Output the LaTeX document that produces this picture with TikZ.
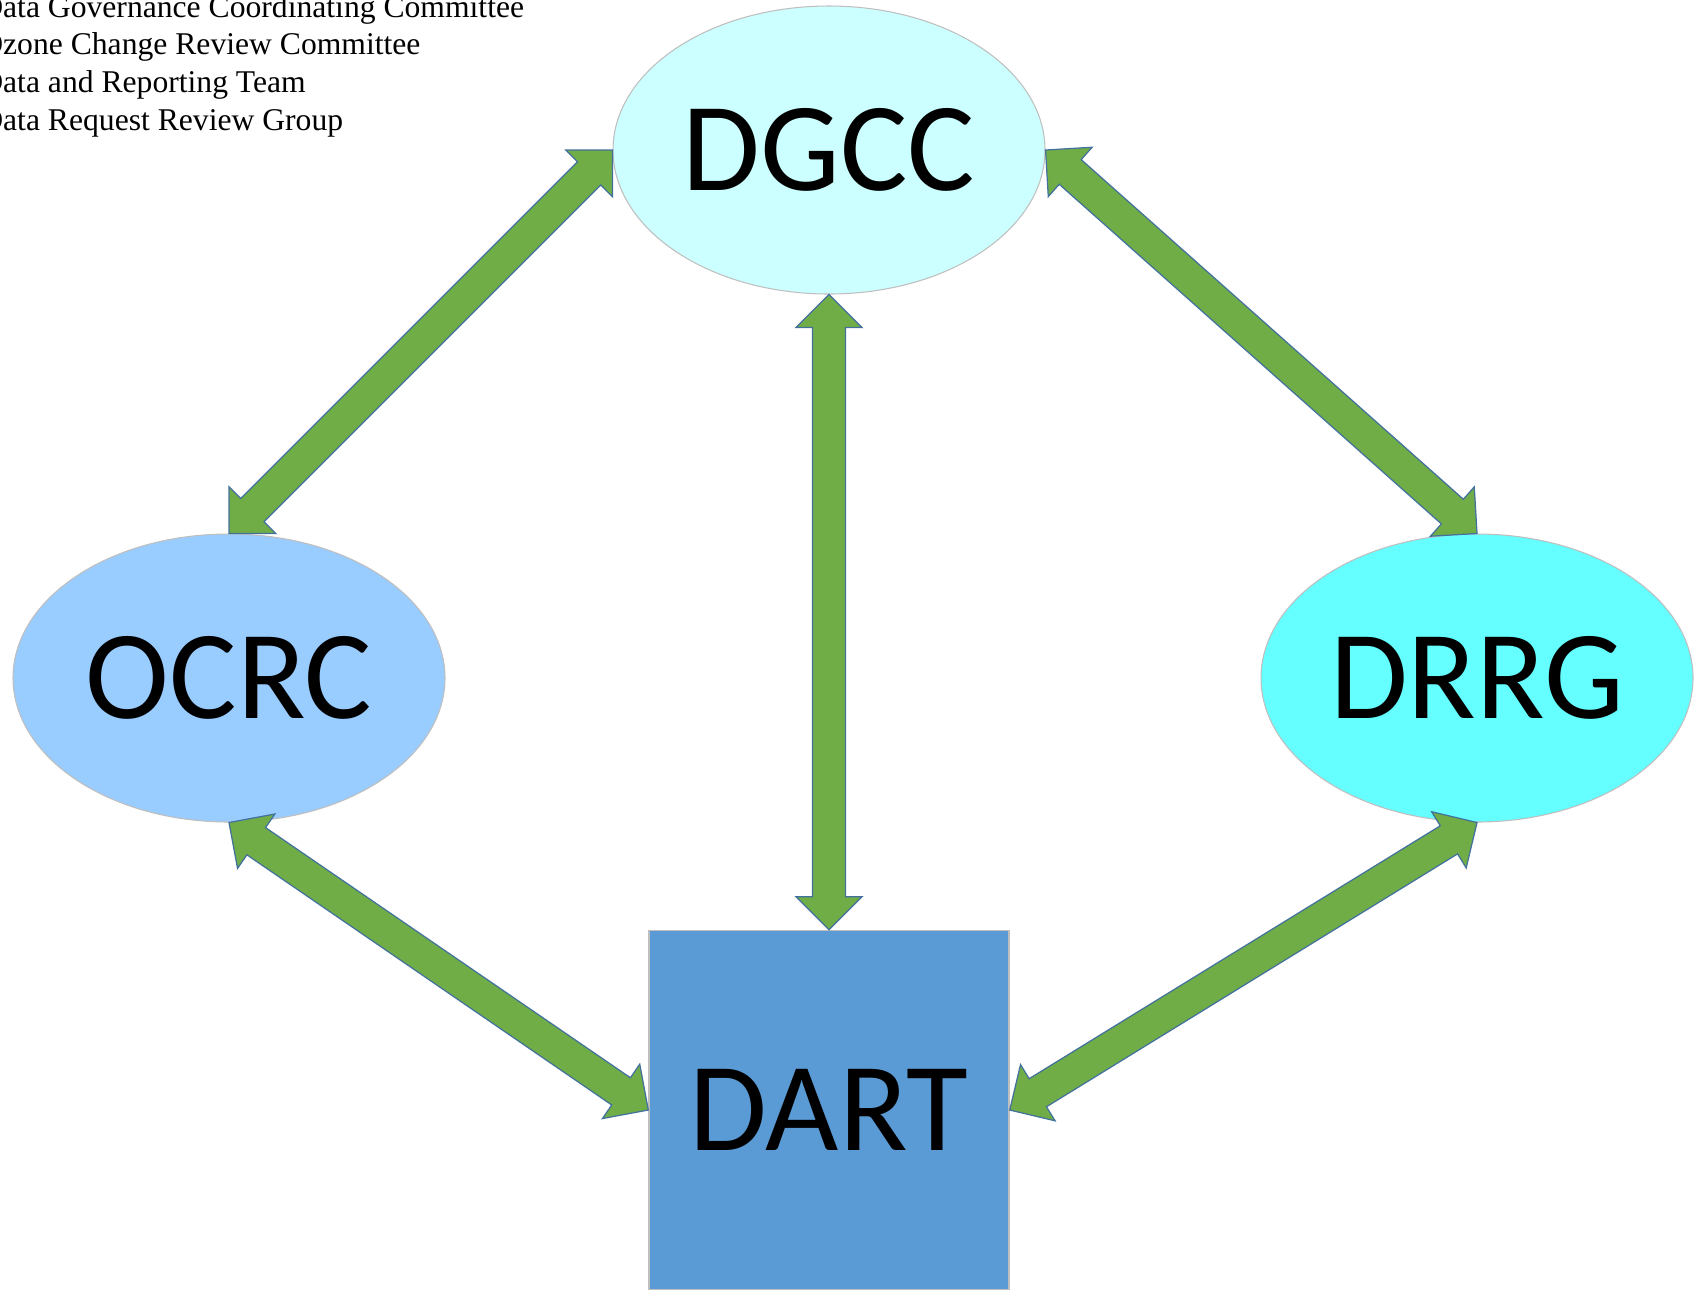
\documentclass[tikz,border=0pt]{standalone}
\usepackage{fontspec}
\setmainfont{Liberation Serif}
\newfontfamily\calibri{Carlito}
\usetikzlibrary{shapes.geometric,calc}

\definecolor{dgccfill}{HTML}{CCFFFF}
\definecolor{ocrcfill}{HTML}{99CCFF}
\definecolor{drrgfill}{HTML}{66FFFF}
\definecolor{dartfill}{HTML}{5B9BD5}
\definecolor{arrowgreen}{HTML}{70AD47}
\definecolor{arrowedge}{HTML}{41719C}
\definecolor{shapeedge}{HTML}{BFBFBF}

\tikzset{
  committee/.style={ellipse, draw=shapeedge, line width=0.6pt,
    minimum width=8.64cm, minimum height=5.76cm, inner sep=0pt,
    font=\calibri\fontsize{72}{80}\selectfont},
  team/.style={rectangle, draw=shapeedge, line width=0.8pt, fill=dartfill,
    minimum width=7.2cm, minimum height=7.18cm, inner sep=0pt,
    font=\calibri\fontsize{72}{80}\selectfont},
  fatarrow/.style={fill=arrowgreen, draw=arrowedge, line width=0.7pt, line join=miter},
  legend/.style={align=left, inner sep=0pt, font=\fontsize{18}{21.4}\selectfont}
}

% double headed block arrow between two anchors
\newcommand{\fatarrow}[2]{%
  \coordinate (fa) at ($(#1)!0.66cm!(#2)$);
  \coordinate (fb) at ($(#2)!0.66cm!(#1)$);
  \filldraw[fatarrow] (#1) -- ($(fa)!0.66cm!90:(#2)$) -- ($(fa)!0.33cm!90:(#2)$)
    -- ($(fb)!0.33cm!-90:(#1)$) -- ($(fb)!0.66cm!-90:(#1)$) -- (#2)
    -- ($(fb)!0.66cm!90:(#1)$) -- ($(fb)!0.33cm!90:(#1)$)
    -- ($(fa)!0.33cm!-90:(#2)$) -- ($(fa)!0.66cm!-90:(#2)$) -- cycle;}

\begin{document}
\begin{tikzpicture}
    \useasboundingbox (0,0) rectangle (33.9,-25.82);
    % Legend
    \node[legend, anchor=north west] (legend) at (-0.40,0.10)
      {Data Governance Coordinating Committee\\
       Ozone Change Review Committee\\
       Data and Reporting Team\\
       Data Request Review Group};
    % Committees and team
    \node[committee, fill=dgccfill] (dgcc) at (16.58,-3.0) {DGCC};
    \node[committee, fill=ocrcfill] (ocrc) at (4.58,-13.56) {OCRC};
    \node[committee, fill=drrgfill] (drrg) at (29.54,-13.56) {DRRG};
    \node[team] (dart) at (16.58,-22.2) {DART};
    % Arrows
    \fatarrow{dgcc.west}{ocrc.north}
    \fatarrow{dgcc.east}{drrg.north}
    \fatarrow{dgcc.south}{dart.north}
    \fatarrow{ocrc.south}{dart.west}
    \fatarrow{drrg.south}{dart.east}
\end{tikzpicture}
\end{document}
